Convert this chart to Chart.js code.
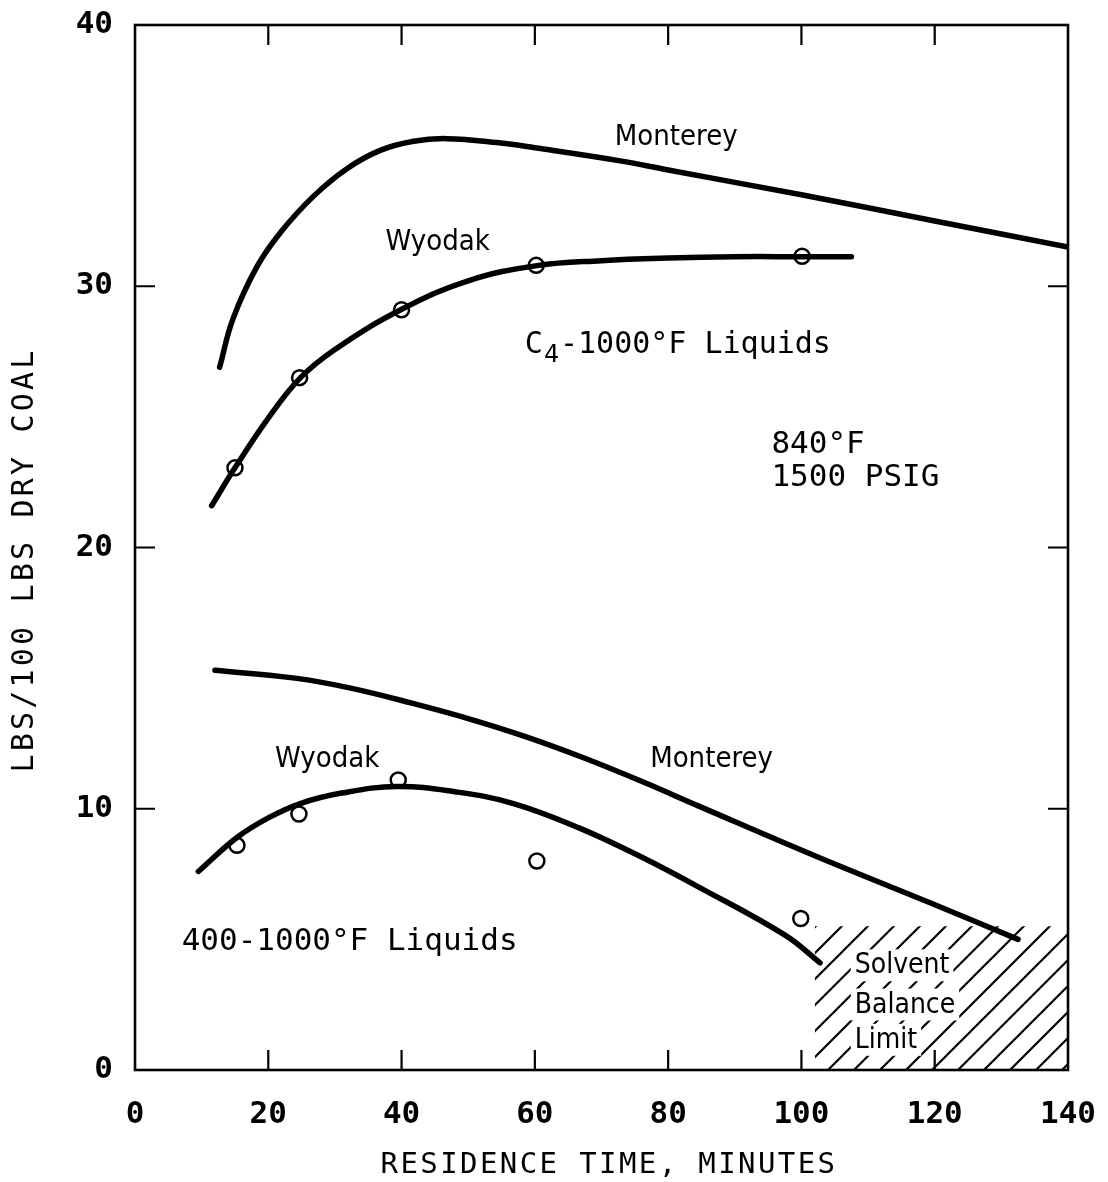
<!DOCTYPE html>
<html>
<head>
<meta charset="utf-8">
<script src="https://cdn.jsdelivr.net/npm/chart.js@4.4.1/dist/chart.umd.min.js"></script>
<style>
  html, body { margin: 0; padding: 0; background: #fff; }
  #wrap { width: 1108px; height: 1182px; }
</style>
</head>
<body>
<div id="wrap"><canvas id="c" width="1108" height="1182"></canvas></div>
<script>
// ---- Data ----
const xTicks = [0, 20, 40, 60, 80, 100, 120, 140];
const yTicks = [0, 10, 20, 30, 40];

// C4-1000°F liquids, Monterey (curve)
const c4MontereyX = [12.7, 14.7, 18.3, 21.8, 26.8, 31.8, 36.8, 41.8, 46.8, 54.3, 60, 72.8, 80, 100, 120, 140];
const c4MontereyY = [26.9, 28.75, 30.75, 32.05, 33.45, 34.5, 35.2, 35.55, 35.65, 35.5, 35.3, 34.8, 34.45, 33.5, 32.5, 31.5];

// C4-1000°F liquids, Wyodak (curve)
const c4WyodakX = [11.5, 15, 20, 24.8, 30, 39.8, 50, 60.3, 70, 80, 90, 100, 107.5];
const c4WyodakY = [21.6, 23.05, 24.95, 26.49, 27.58, 29.09, 30.21, 30.79, 30.98, 31.08, 31.13, 31.13, 31.13];

// C4-1000°F liquids, Wyodak (measured points)
const c4WyodakPtsX = [15, 24.7, 40, 60.2, 100.1];
const c4WyodakPtsY = [23.05, 26.5, 29.1, 30.8, 31.15];

// 400-1000°F liquids, Monterey (curve)
const l4MontereyX = [12, 24, 32.7, 41.4, 50, 58.7, 67.3, 76, 84.6, 102, 119.3, 132.5];
const l4MontereyY = [15.3, 15.0, 14.6, 14.05, 13.45, 12.75, 11.95, 11.05, 10.1, 8.2, 6.4, 5.0];

// 400-1000°F liquids, Wyodak (curve)
const l4WyodakX = [9.5, 15.3, 20, 24.8, 31, 39.3, 48, 56.8, 66.8, 76, 84.6, 97.6, 102.8];
const l4WyodakY = [7.6, 8.9, 9.65, 10.2, 10.6, 10.85, 10.65, 10.2, 9.25, 8.15, 7.0, 5.15, 4.1];

// 400-1000°F liquids, Wyodak (measured points)
const l4WyodakPtsX = [15.3, 24.6, 39.5, 60.3, 99.9];
const l4WyodakPtsY = [8.6, 9.8, 11.1, 8.0, 5.8];

// Solvent balance limit region
const limitX = [102, 140];
const limitY = [5.5, 5.5];

// ---- helpers ----
const zip = (xs, ys) => xs.map((x, i) => ({ x: x, y: ys[i] }));

function hatchPattern() {
  const s = 26;
  const pc = document.createElement('canvas');
  pc.width = s; pc.height = s;
  const p = pc.getContext('2d');
  p.strokeStyle = '#000';
  p.lineWidth = 2.2;
  p.beginPath();
  p.moveTo(0, s); p.lineTo(s, 0);
  p.moveTo(-s / 2, s / 2); p.lineTo(s / 2, -s / 2);
  p.moveTo(s / 2, s * 1.5); p.lineTo(s * 1.5, s / 2);
  p.stroke();
  return p.createPattern(pc, 'repeat');
}

const lineStyle = {
  showLine: true, borderColor: '#000', borderWidth: 5.5, pointRadius: 0,
  tension: 0.4, fill: false, borderCapStyle: 'round'
};
const ptStyle = {
  showLine: false, pointRadius: 7.5, pointBorderWidth: 2.5,
  pointBackgroundColor: '#fff', pointBorderColor: '#000'
};

const MONO = "'DejaVu Sans Mono', monospace";
const COND = "'DejaVu Sans Condensed', 'Liberation Sans Narrow', 'DejaVu Sans', sans-serif";

const decorPlugin = {
  id: 'decor',
  afterDatasetsDraw(chart) {
    const { ctx, chartArea: a, scales: { x, y } } = chart;
    ctx.save();
    // frame
    ctx.strokeStyle = '#000';
    ctx.lineWidth = 2.6;
    ctx.strokeRect(a.left, a.top, a.right - a.left, a.bottom - a.top);
    // inward ticks
    ctx.lineWidth = 2.2;
    ctx.beginPath();
    xTicks.slice(1, -1).forEach(v => {
      const px = x.getPixelForValue(v);
      ctx.moveTo(px, a.bottom); ctx.lineTo(px, a.bottom - 20);
      ctx.moveTo(px, a.top); ctx.lineTo(px, a.top + 20);
    });
    yTicks.slice(1, -1).forEach(v => {
      const py = y.getPixelForValue(v);
      ctx.moveTo(a.left, py); ctx.lineTo(a.left + 20, py);
      ctx.moveTo(a.right, py); ctx.lineTo(a.right - 20, py);
    });
    ctx.stroke();

    // annotations
    ctx.fillStyle = '#000';
    ctx.textBaseline = 'alphabetic';
    ctx.textAlign = 'left';
    const T = (txt, vx, vy, font) => {
      ctx.font = font;
      ctx.fillText(txt, x.getPixelForValue(vx), y.getPixelForValue(vy));
    };
    T('Monterey', 72.0, 35.4, '29px ' + COND);
    T('Wyodak', 37.6, 31.4, '29px ' + COND);
    T('Wyodak', 21.0, 11.6, '29px ' + COND);
    T('Monterey', 77.3, 11.6, '29px ' + COND);

    // C4-1000°F Liquids with subscript
    ctx.font = '30px ' + MONO;
    let cx = x.getPixelForValue(58.5), cy = y.getPixelForValue(27.45);
    ctx.fillText('C', cx, cy);
    let w = ctx.measureText('C').width;
    ctx.font = '25px ' + MONO;
    ctx.fillText('4', cx + w + 1, cy + 9);
    let w2 = ctx.measureText('4').width;
    ctx.font = '30px ' + MONO;
    ctx.fillText('-1000\u00B0F Liquids', cx + w + w2 + 2, cy);

    T('840\u00B0F', 95.5, 23.6, '31px ' + MONO);
    T('1500 PSIG', 95.5, 22.35, '31px ' + MONO);
    T('400-1000\u00B0F Liquids', 7.0, 4.6, '31px ' + MONO);

    // Solvent balance limit labels with white boxes
    ctx.font = '28px ' + COND;
    [['Solvent', 3.7], ['Balance', 2.2], ['Limit', 0.85]].forEach(([t, vy]) => {
      const px = x.getPixelForValue(108.0), py = y.getPixelForValue(vy);
      const tw = ctx.measureText(t).width;
      ctx.fillStyle = '#fff';
      ctx.fillRect(px - 4, py - 24, tw + 8, 32);
      ctx.fillStyle = '#000';
      ctx.fillText(t, px, py);
    });

    // axis titles
    ctx.font = '29px ' + MONO;
    ctx.letterSpacing = '2.4px';
    ctx.textAlign = 'center';
    ctx.textBaseline = 'middle';
    ctx.fillText('RESIDENCE TIME, MINUTES', 609, 1165);
    ctx.save();
    ctx.translate(25, 560);
    ctx.rotate(-Math.PI / 2);
    ctx.letterSpacing = '3.2px';
    ctx.font = '30px ' + MONO;
    ctx.fillText('LBS/100 LBS DRY COAL', 0, 0);
    ctx.restore();
    ctx.letterSpacing = '0px';
    ctx.restore();
  }
};

new Chart(document.getElementById('c'), {
  type: 'scatter',
  data: {
    datasets: [
      { label: 'Solvent Balance Limit', data: zip(limitX, limitY), showLine: true,
        borderWidth: 0, borderColor: 'rgba(0,0,0,0)', pointRadius: 0, fill: 'origin',
        backgroundColor: hatchPattern(), order: 10 },
      Object.assign({ label: 'C4 Monterey', data: zip(c4MontereyX, c4MontereyY) }, lineStyle),
      Object.assign({ label: 'C4 Wyodak', data: zip(c4WyodakX, c4WyodakY) }, lineStyle),
      Object.assign({ label: 'C4 Wyodak data', data: zip(c4WyodakPtsX, c4WyodakPtsY) }, ptStyle),
      Object.assign({ label: '400 Monterey', data: zip(l4MontereyX, l4MontereyY) }, lineStyle),
      Object.assign({ label: '400 Wyodak', data: zip(l4WyodakX, l4WyodakY) }, lineStyle),
      Object.assign({ label: '400 Wyodak data', data: zip(l4WyodakPtsX, l4WyodakPtsY) }, ptStyle)
    ]
  },
  options: {
    responsive: false,
    animation: false,
    devicePixelRatio: 1,
    layout: { padding: { top: 25, right: 40, left: 0, bottom: 0 } },
    plugins: { legend: { display: false }, tooltip: { enabled: false } },
    scales: {
      x: {
        type: 'linear', min: 0, max: 140,
        afterBuildTicks: s => { s.ticks = xTicks.map(v => ({ value: v })); },
        afterFit: s => { s.height = 112; s.paddingLeft = 0; s.paddingRight = 0; },
        grid: { display: false, drawTicks: false },
        border: { display: false },
        ticks: { color: '#000', padding: 26, font: { family: MONO, size: 31, weight: 'bold' } },
        title: { display: false }
      },
      y: {
        type: 'linear', min: 0, max: 40,
        afterBuildTicks: s => { s.ticks = yTicks.map(v => ({ value: v })); },
        afterFit: s => { s.width = 135; s.paddingTop = 0; s.paddingBottom = 0; },
        grid: { display: false, drawTicks: false },
        border: { display: false },
        ticks: { color: '#000', padding: 22, font: { family: MONO, size: 31, weight: 'bold' } },
        title: { display: false }
      }
    }
  },
  plugins: [decorPlugin]
});
</script>
</body>
</html>
